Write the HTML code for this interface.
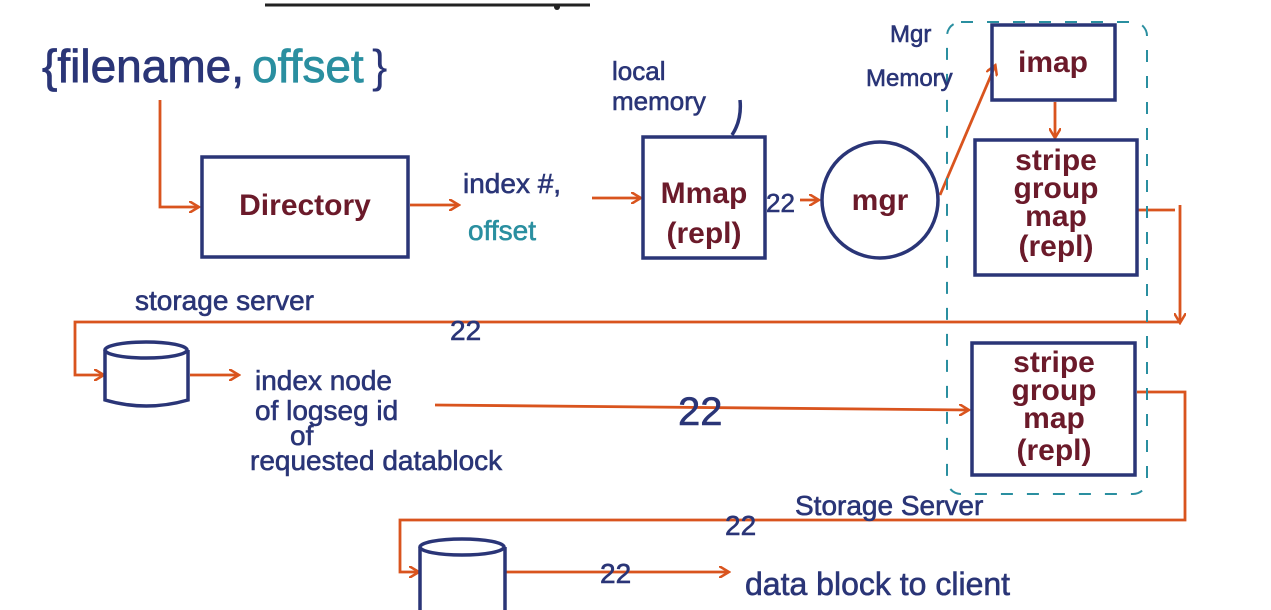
<!DOCTYPE html>
<html><head><meta charset="utf-8"><style>
html,body{margin:0;padding:0;background:#fff;}
svg{display:block;}
text{font-family:"Liberation Sans",sans-serif;}
</style></head><body>
<svg width="1271" height="610" viewBox="0 0 1271 610" xmlns="http://www.w3.org/2000/svg">
<defs>
<marker id="a" markerWidth="12" markerHeight="12" refX="9" refY="6" orient="auto" markerUnits="userSpaceOnUse">
<path d="M0,0 L10,6 L0,12" fill="none" stroke="#d9541e" stroke-width="2.5"/>
</marker>
</defs>
<rect width="1271" height="610" fill="#fff"/>
<line x1="265" y1="5" x2="590" y2="5" stroke="#222" stroke-width="3"/>
<circle cx="557" cy="7" r="3" fill="#222"/>

<text x="42" y="82" font-size="46" fill="#2a3577" stroke="#2a3577" stroke-width="0.8">{filename,</text>
<text x="252" y="82" font-size="46" fill="#2a8fa0" stroke="#2a8fa0" stroke-width="0.8">offset</text>
<text x="372" y="82" font-size="46" fill="#2a3577">}</text>

<g stroke="#d9541e" stroke-width="2.8" fill="none">
<path d="M160,100 L160,207 L198,207" marker-end="url(#a)"/>
<path d="M410,205 L458,205" marker-end="url(#a)"/>
<path d="M592,198 L640,198" marker-end="url(#a)"/>
<path d="M800,200 L818,200" marker-end="url(#a)"/>
<path d="M940,195 L995,66" marker-end="url(#a)"/>
<path d="M1055,102 L1055,137" marker-end="url(#a)"/>
<path d="M1138,210 L1175,210"/>
<path d="M1180,205 L1180,322" marker-end="url(#a)"/>
<path d="M1180,322 L75,322 L75,375 L103,375" marker-end="url(#a)"/>
<path d="M190,375 L238,375" marker-end="url(#a)"/>
<path d="M435,405 L968,410" marker-end="url(#a)"/>
<path d="M1137,392 L1185,392 L1185,520 L400,520 L400,572 L418,572" marker-end="url(#a)"/>
<path d="M505,572 L728,572" marker-end="url(#a)"/>
</g>

<g stroke="#2a3577" stroke-width="3.5" fill="none">
<rect x="202" y="157" width="206" height="100"/>
<rect x="643" y="137" width="122" height="121"/>
<circle cx="880" cy="200" r="58"/>
<rect x="992" y="25" width="123" height="75"/>
<rect x="975" y="140" width="162" height="135"/>
<rect x="972" y="343" width="163" height="132"/>
<path d="M105,350 L105,400 Q146,412 188,400 L188,350"/>
<ellipse cx="146" cy="350" rx="41" ry="8"/>
<path d="M420,547 L420,610 M505,547 L505,610"/>
<ellipse cx="462" cy="547" rx="42" ry="8"/>
<path d="M740,100 Q742,120 732,135"/>
</g>

<rect x="947" y="22" width="200" height="472" rx="14" fill="none" stroke="#2a8fa0" stroke-width="2" stroke-dasharray="12,14"/>

<g fill="#6b1a2a" font-size="30" font-weight="bold" text-anchor="middle">
<text x="305" y="215">Directory</text>
<text x="704" y="203">Mmap</text>
<text x="704" y="243">(repl)</text>
<text x="880" y="210">mgr</text>
<text x="1053" y="72">imap</text>
<text x="1056" y="170">stripe</text>
<text x="1056" y="198">group</text>
<text x="1056" y="226">map</text>
<text x="1056" y="256">(repl)</text>
<text x="1054" y="372">stripe</text>
<text x="1054" y="400">group</text>
<text x="1054" y="428">map</text>
<text x="1054" y="460">(repl)</text>
</g>

<g fill="#2a3577" font-size="28" stroke="#2a3577" stroke-width="0.6">
<text x="463" y="193">index #,</text>
<text x="612" y="80" font-size="26">local</text>
<text x="612" y="110" font-size="26">memory</text>
<text x="890" y="42" font-size="24">Mgr</text>
<text x="866" y="86" font-size="24">Memory</text>
<text x="766" y="212" font-size="26">22</text>
<text x="135" y="310">storage server</text>
<text x="450" y="340">22</text>
<text x="255" y="390">index node</text>
<text x="255" y="420">of logseg id</text>
<text x="290" y="445">of</text>
<text x="250" y="470">requested datablock</text>
<text x="678" y="425" font-size="40">22</text>
<text x="795" y="515">Storage Server</text>
<text x="725" y="535">22</text>
<text x="600" y="583">22</text>
<text x="745" y="595" font-size="32">data block to client</text>
</g>
<text x="468" y="240" font-size="28" fill="#2a8fa0" stroke="#2a8fa0" stroke-width="0.6">offset</text>
</svg>
</body></html>
